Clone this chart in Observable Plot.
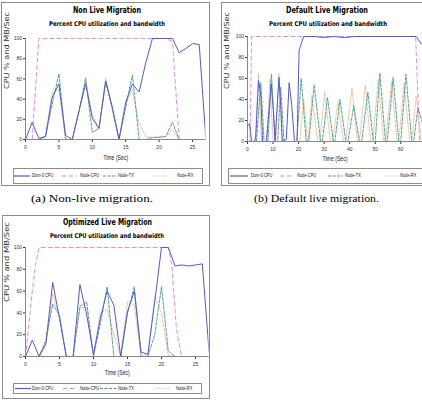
<!DOCTYPE html>
<html><head><meta charset="utf-8">
<script src="https://cdn.jsdelivr.net/npm/d3@7"></script>
<script src="https://cdn.jsdelivr.net/npm/@observablehq/plot@0.6"></script>
<style>
html,body{margin:0;padding:0;background:#fff;}
#root{position:relative;width:422px;height:407px;overflow:hidden;background:#fff;}
.frame{position:absolute;border:1px solid #8c8c8c;box-sizing:border-box;}
.lbl{position:absolute;white-space:nowrap;transform-origin:0 50%;}
.chart{position:absolute;}
.lgbox{position:absolute;border:1px solid #8c8c8c;box-sizing:border-box;}
</style></head><body><div id="root"></div>
<script>
// ---------- text ----------
const seriesNames = ["Dom-0 CPU", "Node-CPU", "Node-TX", "Node-RX"];
const panelTitles = ["Non Live Migration", "Default Live Migration", "Optimized Live Migration"];
const subtitle = "Percent CPU utilization and bandwidth";
const captions = ["(a) Non-live migration.", "(b) Default live migration."];
const xLabel = "Time (Sec)";
const yLabel = "CPU % and MB/Sec";
const yTicks = [0, 20, 40, 60, 80, 100];
const xTicksA = [0, 5, 10, 15, 20, 25];
const xTicksB = [0, 10, 20, 30, 40, 50, 60];
const xTicksC = [0, 5, 10, 15, 20, 25];

// ---------- (a) Non live migration ----------
const nlTime   = [0,1,2,3,4,5,6,7,8,9,10,11,12,13,14,15,16,17,18,19,20,21,22,23,24,25,26,27];
const nlDom0   = [0,17,1,3,42,55,4,0,28,55,21,11,58,32,0,37,55,47,76,100,100,100,100,86,90,95,94,0];
const nlNodeCpuTime = [0,1,2,21,22,23];
const nlNodeCpu     = [0,0,100,100,97,0];
const nlTxTime = [0,1,2,3,4,5,6,7,8,9,10,11,12,13,14,15,16,17,18,19,20,21,22,23];
const nlTx     = [0,0,0,3,35,65,0,0,28,61,7,11,57,30,0,32,64,0,0,2,2,3,17,0];
const nlRx     = [0,0,0,3,47,49,0,0,28,58,24,11,61,30,0,35,49,16,3,2,3,3,10,0];

// ---------- (b) Default live migration ----------
const dlDom0Time = [0,0.8,1.6,2.6,3.2,4.3,5.2,5.9,7.4,9.3,10.1,10.8,12.3,13.1,13.6,15.2,16.3,17.3,18.4,19.4,20.2,21,22,26,30,34,38,42,46,50,55,60,66,68];
const dlDom0     = [15,17,0,0,3,58,45,0,0,55,30,0,61,30,0,2,56,35,0,0,87,93,100,100,99,100,99,100,100,100,100,100,100,93];
const dlNodeCpuTime = [0,1,1.6,65.8,67.4];
const dlNodeCpu     = [0,0,100,100,0];
const dlTxTime = [0,3.5,5.2,6.5,8,9.4,10.8,11.8,13,14.3,19.3,21,23,24,26.1,28.6,29.3,31.3,33.6,34.2,36.2,38.5,39.3,41.6,43.8,44.7,47.1,49.3,50,51.8,54,54.7,57,59.2,60,62,64.3,65,66.7,68.5];
const dlTx     = [0,0,56,0,0,64,0,0,52,0,0,60,0,0,54,0,0,42,0,0,40,0,0,34,0,0,47,0,0,65,0,0,61,0,0,64,0,0,32,18];
const dlRxTime = [0,3,4.3,5.5,7.5,8.8,10,11,12.3,13.6,20.5,22,23.5,23.7,25.2,27.5,28.3,30.2,32.5,33.3,35.4,37.6,38.5,40.9,43,43.8,46.1,48.2,49,51.2,53.3,54,56.4,58.5,59.2,61.3,63.5,64.2,66,68];
const dlRx     = [0,0,65,0,0,60,0,0,65,0,0,40,0,0,44,0,0,47,0,0,38,0,0,51,0,0,54,0,0,59,0,0,57,0,0,55,0,0,43,0];

// ---------- (c) Optimized live migration ----------
const opTime   = [0,1,2,3,4,5,6,7,8,9,10,11,12,13,14,15,16,17,18,19,20,21,22,23,24,25,26,27];
const opDom0   = [0,15,0,12,68,35,0,0,66,38,2,35,60,47,0,41,60,4,2,50,100,100,83,84,83,84,85,4];
const opNodeCpuTime = [0,1,1.5,2,21,21.5,22.2,22.8,23];
const opNodeCpu     = [0,60,85,100,100,85,25,5,0];
const opTxTime = [0,1,2,3,4,5,6,7,8,9,10,11,12,13,14,15,16,17,18,19,20,21,22];
const opTx     = [0,0,0,15,48,38,0,0,46,50,0,30,64,0,0,40,64,0,0,20,64,5,0];
const opRx     = [0,0,0,10,58,35,0,0,45,45,0,40,43,20,0,50,47,0,2,55,40,1,0];

// ---------- styles ----------
const seriesStyle = {
  "Dom-0 CPU": {stroke: "#5656d6", dash: null, width: 1},
  "Node-CPU":  {stroke: "#e27ae8", dash: "4,3", width: 0.9},
  "Node-TX":   {stroke: "#3c9e86", dash: "3,1.5", width: 0.9},
  "Node-RX":   {stroke: "#eeb48e", dash: "1,1.2", width: 0.9}
};
const drawOrder = ["Node-CPU", "Node-RX", "Node-TX", "Dom-0 CPU"];

const root = document.getElementById("root");

function rows(times, values) {
  return times.map((t, i) => ({t, v: values[i]})).filter(d => d.v != null);
}

function label(text, o) {
  const el = document.createElement("div");
  el.className = "lbl";
  el.textContent = text;
  el.style.fontFamily = o.family || "'DejaVu Sans', sans-serif";
  el.style.fontSize = o.size + "px";
  el.style.fontWeight = o.weight || "normal";
  el.style.lineHeight = o.size + "px";
  el.style.color = o.color || "#000";
  root.appendChild(el);
  const natural = el.getBoundingClientRect().width || 1;
  const w = o.width || natural * (o.scale || 1);
  const sx = w / natural;
  const left = o.anchor === "middle" ? o.x - w / 2 : o.anchor === "end" ? o.x - w : o.x;
  el.style.left = left + "px";
  el.style.top = (o.y - o.size / 2) + "px";
  el.style.transform = `scaleX(${sx})`;
  return el;
}

function frame(x, y, w, h) {
  const d = document.createElement("div");
  d.className = "frame";
  Object.assign(d.style, {left: x + "px", top: y + "px", width: w + "px", height: h + "px"});
  root.appendChild(d);
}

function chart(o) {
  const marks = [
    Plot.ruleY([0], {stroke: "#888", strokeWidth: 1}),
    Plot.ruleX([0], {stroke: "#888", strokeWidth: 1})
  ];
  for (const name of drawOrder) {
    const s = seriesStyle[name];
    marks.push(Plot.line(o.data[name], {
      x: "t", y: "v", stroke: s.stroke, strokeWidth: s.width,
      strokeDasharray: s.dash || undefined, clip: true
    }));
  }
  marks.push(Plot.text([xLabel], {text: d => d, frameAnchor: "bottom", dy: o.xlDy, fontSize: 7, fill: "#222"}));
  marks.push(Plot.text([yLabel], {text: d => d, frameAnchor: "left", dx: o.ylDx, rotate: -90, fontSize: 7, fill: "#333", fontFamily: "DejaVu Sans"}));
  const svg = Plot.plot({
    width: o.width, height: o.height,
    marginLeft: o.ml, marginRight: o.mr, marginTop: o.mt, marginBottom: o.mb,
    style: {fontFamily: "'Liberation Sans', sans-serif", fontSize: "5px", color: "#333", background: "transparent", overflow: "visible"},
    x: {domain: o.xDomain, ticks: o.xTicks, tickSize: 3, tickPadding: 2.5, label: null},
    y: {domain: [0, 100], ticks: yTicks, tickSize: 2, tickPadding: 1.5, label: null},
    marks
  });
  svg.classList.add("chart");
  svg.style.left = o.left + "px";
  svg.style.top = o.top + "px";
  root.appendChild(svg);
  for (const t of svg.querySelectorAll("text")) {
    if (t.textContent === xLabel) { t.setAttribute("textLength", o.xlLen); t.setAttribute("lengthAdjust", "spacingAndGlyphs"); }
    if (t.textContent === yLabel) { t.setAttribute("textLength", o.ylLen); t.setAttribute("lengthAdjust", "spacingAndGlyphs"); }
  }
}

function legend(box, lines, labels) {
  const b = document.createElement("div");
  b.className = "lgbox";
  Object.assign(b.style, {left: box[0] + "px", top: box[1] + "px", width: (box[2] - box[0]) + "px", height: (box[3] - box[1]) + "px"});
  root.appendChild(b);
  const cy = (box[1] + box[3]) / 2;
  const ns = "http://www.w3.org/2000/svg";
  const svg = document.createElementNS(ns, "svg");
  svg.setAttribute("width", 422); svg.setAttribute("height", 407);
  svg.style.position = "absolute"; svg.style.left = "0px"; svg.style.top = "0px";
  seriesNames.forEach((name, i) => {
    const s = seriesStyle[name];
    const ln = document.createElementNS(ns, "line");
    ln.setAttribute("x1", lines[i][0]); ln.setAttribute("x2", lines[i][1]);
    ln.setAttribute("y1", cy); ln.setAttribute("y2", cy);
    ln.setAttribute("stroke", s.stroke); ln.setAttribute("stroke-width", 1.2);
    if (s.dash) ln.setAttribute("stroke-dasharray", s.dash);
    svg.appendChild(ln);
    label(name, {x: labels[i], y: cy, size: 5.5, family: "'Liberation Sans', sans-serif", scale: 0.72, color: "#222"});
  });
  root.appendChild(svg);
}

// ---------- panel frames ----------
frame(1, 2, 209, 184);
frame(221, 2, 210, 184);
frame(2, 215, 208, 184);

// ---------- titles ----------
label(panelTitles[0], {x: 107, y: 10.5, size: 8.5, weight: "bold", anchor: "middle", width: 68});
label(subtitle, {x: 107, y: 24.5, size: 6.5, weight: "bold", anchor: "middle", width: 116});
label(panelTitles[1], {x: 327, y: 10.5, size: 8.5, weight: "bold", anchor: "middle", width: 82});
label(subtitle, {x: 327.5, y: 24.5, size: 6.5, weight: "bold", anchor: "middle", width: 118});
label(panelTitles[2], {x: 107, y: 222, size: 8.5, weight: "bold", anchor: "middle", width: 89});
label(subtitle, {x: 107, y: 236, size: 6.5, weight: "bold", anchor: "middle", width: 114});

// ---------- charts ----------
chart({
  left: 0, top: 30, width: 209, height: 140, ml: 25, mr: 3.6, mt: 8, mb: 31,
  xDomain: [0, 27], xTicks: xTicksA, xlDy: 20, ylDx: -19, xlLen: 25, ylLen: 77,
  data: {
    "Dom-0 CPU": rows(nlTime, nlDom0),
    "Node-CPU": rows(nlNodeCpuTime, nlNodeCpu),
    "Node-TX": rows(nlTxTime, nlTx),
    "Node-RX": rows(nlTxTime, nlRx)
  }
});
chart({
  left: 211, top: 28, width: 211, height: 140, ml: 36, mr: 0, mt: 8, mb: 27,
  xDomain: [0, 68.5], xTicks: xTicksB, xlDy: 19, ylDx: -21, xlLen: 25, ylLen: 77,
  data: {
    "Dom-0 CPU": rows(dlDom0Time, dlDom0),
    "Node-CPU": rows(dlNodeCpuTime, dlNodeCpu),
    "Node-TX": rows(dlTxTime, dlTx),
    "Node-RX": rows(dlRxTime, dlRx)
  }
});
chart({
  left: 0, top: 240, width: 211, height: 140, ml: 25, mr: 2.4, mt: 7, mb: 24,
  xDomain: [0, 27], xTicks: xTicksC, xlDy: 18, ylDx: -19, xlLen: 25, ylLen: 80,
  data: {
    "Dom-0 CPU": rows(opTime, opDom0),
    "Node-CPU": rows(opNodeCpuTime, opNodeCpu),
    "Node-TX": rows(opTxTime, opTx),
    "Node-RX": rows(opTxTime, opRx)
  }
});

// ---------- legends ----------
legend([13, 168, 203, 184], [[14, 30], [62, 77], [103, 117], [153, 170]], [32, 80, 118, 177]);
legend([228, 168, 426, 184], [[230, 248], [280, 293], [328, 343], [385, 397]], [251, 297, 345, 400]);
legend([13, 383, 202, 394], [[15, 31], [63, 77], [100, 117], [157, 170]], [32, 80, 118, 176]);

// ---------- captions ----------
label(captions[0], {x: 92, y: 199, size: 10.5, family: "'Liberation Serif', serif", anchor: "middle", width: 122});
label(captions[1], {x: 316, y: 199, size: 10.5, family: "'Liberation Serif', serif", anchor: "middle", width: 125});
</script></body></html>
